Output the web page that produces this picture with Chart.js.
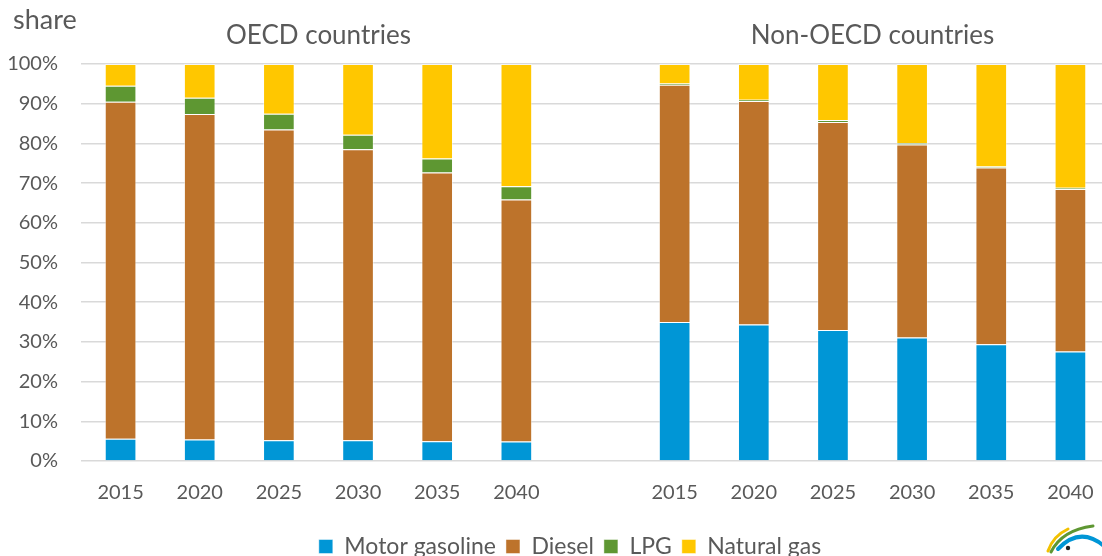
<!DOCTYPE html>
<html>
<head>
<meta charset="utf-8">
<script src="https://cdn.jsdelivr.net/npm/chart.js@4.4.1/dist/chart.umd.min.js"></script>
<style>
    html, body { margin: 0; padding: 0; background: #ffffff; overflow: hidden; }
    #wrap { width: 1102px; height: 556px; overflow: hidden; }
</style>
</head>
<body>
<div id="wrap"><canvas id="fuel-share" width="1140" height="568"></canvas></div>
<script>
// années, avec une colonne vide entre les deux groupes
const annees = ['2015', '2020', '2025', '2030', '2035', '2040', '', '2015', '2020', '2025', '2030', '2035', '2040'];
const graduations = ['0%', '10%', '20%', '30%', '40%', '50%', '60%', '70%', '80%', '90%', '100%'];

// parts en % : OECD (6 valeurs), null pour la colonne vide, puis Non-OECD (6 valeurs)
const essence = [5.6, 5.4, 5.2, 5.2, 5.0, 4.9, null, 35.0, 34.4, 33.0, 31.1, 29.4, 27.6];
const diesel = [84.9, 82.0, 78.3, 73.3, 67.7, 61.0, null, 59.8, 56.3, 52.4, 48.6, 44.5, 40.9];
const gpl = [4.0, 4.1, 4.0, 3.7, 3.5, 3.3, null, 0.3, 0.3, 0.5, 0.4, 0.3, 0.3];
const gazNaturel = [5.5, 8.5, 12.5, 17.8, 23.8, 30.8, null, 4.9, 9.0, 14.1, 19.9, 25.8, 31.2];

const titresGroupes = [
    { texte: 'OECD countries', de: 0, a: 5 },
    { texte: 'Non-OECD countries', de: 7, a: 12 }
];

const gris = '#595959';
const police = 'Lato, "Open Sans", sans-serif';

function serie(label, data, couleur) {
    return {
        label: label,
        data: data,
        backgroundColor: couleur,
        borderColor: 'rgba(255, 255, 255, 0.45)',
        borderWidth: 1,
        barPercentage: 0.4,
        categoryPercentage: 1.0
    };
}

// titres des groupes, "share" et petit logo en bas à droite
const decor = {
    id: 'decor',
    afterDraw(chart) {
        const ctx = chart.ctx;
        const x = chart.scales.x;
        ctx.save();
        ctx.fillStyle = gris;
        ctx.textBaseline = 'middle';

        ctx.font = '27px ' + police;
        ctx.textAlign = 'left';
        ctx.fillText('share', 13, 20);

        ctx.font = '26px ' + police;
        ctx.textAlign = 'center';
        titresGroupes.forEach(g => {
            const cx = (x.getPixelForValue(g.de) + x.getPixelForValue(g.a)) / 2;
            ctx.fillText(g.texte, cx, 36);
        });

        // logo
        ctx.lineCap = 'round';
        ctx.lineWidth = 3;
        ctx.strokeStyle = '#f2c100';
        ctx.beginPath();
        ctx.moveTo(1048, 551);
        ctx.quadraticCurveTo(1053, 536, 1068, 529);
        ctx.stroke();
        ctx.strokeStyle = '#5e9732';
        ctx.beginPath();
        ctx.moveTo(1051, 552);
        ctx.quadraticCurveTo(1062, 530, 1093, 526);
        ctx.stroke();
        ctx.lineWidth = 4;
        ctx.strokeStyle = '#0096d6';
        ctx.beginPath();
        ctx.moveTo(1058, 549);
        ctx.quadraticCurveTo(1080, 526, 1104, 546);
        ctx.stroke();
        ctx.fillStyle = '#222222';
        ctx.beginPath();
        ctx.arc(1068, 548, 2.2, 0, Math.PI * 2);
        ctx.fill();
        ctx.restore();
    }
};

const ctx = document.getElementById('fuel-share').getContext('2d');

new Chart(ctx, {
    type: 'bar',
    data: {
        labels: annees,
        datasets: [
            serie('Motor gasoline', essence, 'rgb(0, 150, 214)'),
            serie('Diesel', diesel, 'rgb(189, 115, 43)'),
            serie('LPG', gpl, 'rgb(94, 151, 50)'),
            serie('Natural gas', gazNaturel, 'rgb(255, 199, 0)')
        ]
    },
    options: {
        responsive: false,
        animation: false,
        devicePixelRatio: 1,
        layout: {
            padding: { top: 64, left: 0, right: 0, bottom: 0 }
        },
        scales: {
            x: {
                stacked: true,
                grid: { display: false, drawTicks: false },
                border: { display: false },
                ticks: {
                    color: gris,
                    padding: 20,
                    font: { family: police, size: 20 },
                    maxRotation: 0,
                    autoSkip: false
                },
                afterFit(scale) { scale.height = 64; }
            },
            y: {
                stacked: true,
                min: 0,
                max: 100,
                grid: {
                    color: '#d9d9d9',
                    lineWidth: 1.5,
                    drawTicks: false
                },
                border: { display: false },
                ticks: {
                    stepSize: 10,
                    color: gris,
                    padding: 23,
                    font: { family: police, size: 20 }
                },
                afterFit(scale) { scale.width = 81; },
                // libellés des graduations repris du tableau
                afterTickToLabelConversion(scale) {
                    scale.ticks.forEach(t => {
                        t.label = graduations[Math.round(t.value / 10)];
                    });
                }
            },
            // axe vide à droite, sert juste de marge pour centrer la légende
            marge: {
                position: 'right',
                grid: { display: false, drawTicks: false },
                border: { display: false },
                ticks: { display: false },
                afterFit(scale) { scale.width = 30; }
            }
        },
        plugins: {
            tooltip: { enabled: false },
            legend: {
                position: 'bottom',
                labels: {
                    color: gris,
                    boxWidth: 14,
                    boxHeight: 14,
                    padding: 10,
                    font: { family: police, size: 23 }
                }
            }
        }
    },
    plugins: [decor]
});
</script>
</body>
</html>
